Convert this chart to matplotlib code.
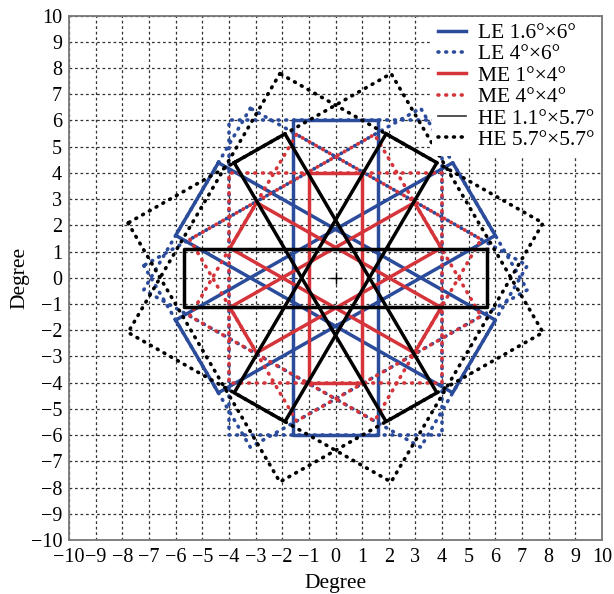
import numpy as np
import matplotlib
matplotlib.use('Agg')
import matplotlib.pyplot as plt
from matplotlib.lines import Line2D

plt.rcParams['font.family'] = ['Liberation Serif', 'DejaVu Serif']
plt.rcParams['axes.unicode_minus'] = True

# field of view of each detector group (half sizes in degree, before rotation)
labels = ['LE 1.6°×6°', 'LE 4°×6°', 'ME 1°×4°', 'ME 4°×4°', 'HE 1.1°×5.7°', 'HE 5.7°×5.7°']
half_x = [1.6, 4.0, 1.0, 4.0, 5.7, 5.7]
half_y = [6.0, 6.0, 4.0, 4.0, 1.1, 5.7]
# rotation of each collimator box, degree
angles = [[0, 60, 120], [0, 60, 120], [0, 60, 120], [0, 60, 120], [0, 60, 120], [60, 120]]
colors = ['#2b4b9b', '#2b4b9b', '#d5343b', '#d5343b', '#000000', '#000000']
dotted = [False, True, False, True, False, True]

ticks = list(range(-10, 11))


def box(hx, hy, ang):
    # corners of a rectangle centred on the origin, rotated by ang degrees
    x = np.array([hx, -hx, -hx, hx, hx])
    y = np.array([hy, hy, -hy, -hy, hy])
    a = np.deg2rad(ang)
    return x * np.cos(a) - y * np.sin(a), x * np.sin(a) + y * np.cos(a)


fig = plt.figure(figsize=(6.14, 5.94), dpi=100)
ax = fig.add_axes([0.1124, 0.0909, 0.8681, 0.883])

handles = []
for lab, hx, hy, angs, c, dot in zip(labels, half_x, half_y, angles, colors, dotted):
    if dot:
        kw = dict(lw=2.6, ls=(0, (0.25, 1.9)), dash_capstyle='round')
    else:
        kw = dict(lw=2.5, ls='-')
    for ang in angs:
        xs, ys = box(hx, hy, ang)
        ax.plot(xs, ys, color=c, zorder=3, **kw)
    handles.append(Line2D([], [], color=c, label=lab, **kw))

# boresight
ax.plot([0], [0], marker='+', color='k', ms=8, mew=1.0, zorder=4)

ax.set_xlim(-10, 10)
ax.set_ylim(-10, 10)
ax.set_xticks(ticks)
ax.set_yticks(ticks)
ax.tick_params(length=0, labelsize=14.5)
ax.tick_params(axis='x', pad=6)
ax.tick_params(axis='y', pad=5)
ax.grid(True, color='#333333', lw=0.9, ls=(0, (2.2, 2.2)), zorder=1)
ax.set_axisbelow(True)
for s in ax.spines.values():
    s.set_color('#777777')
    s.set_linewidth(1.3)

ax.set_xlabel('Degree', fontsize=15.5, labelpad=5)
ax.set_ylabel('Degree', fontsize=15.5, labelpad=1)

# thin line for the HE narrow field in the key
handles[4].set_linewidth(1.2)
handles[4].set_color('#333333')

leg = ax.legend(handles=handles, loc='upper right', fontsize=15.5, frameon=True,
                fancybox=False, edgecolor='none', facecolor='white', framealpha=1,
                handlelength=1.3, handletextpad=0.55, labelspacing=0.06,
                borderaxespad=0.05, borderpad=0.3)
leg.set_zorder(5)

fig.savefig('out.png', dpi=100)
